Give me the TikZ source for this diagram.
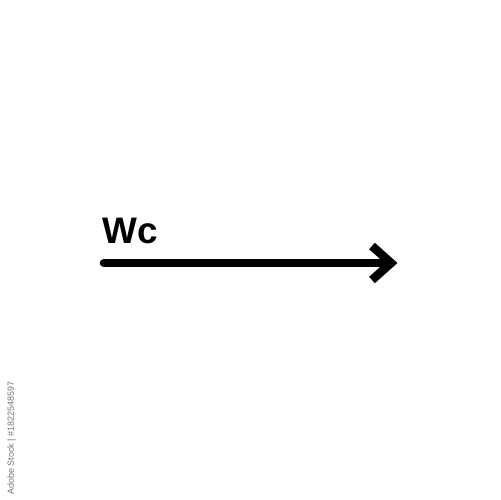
\documentclass[tikz,border=0pt]{standalone}
\usepackage{fontspec}
\setmainfont{Liberation Sans}
\usepackage{tikz}
\usetikzlibrary{positioning}
\usetikzlibrary{calc}
\tikzset{
  % Common styles for the diagram
  shaft/.style={draw, line width=4.9pt, line cap=round},
  barb/.style={draw, line width=4.9pt, line join=miter, line cap=butt},
  label/.style={font=\bfseries\fontsize{21}{24}\selectfont, inner sep=0pt},
  stamp/.style={font=\fontsize{5.1}{6}\selectfont, text=black!55, inner sep=0pt, rotate=90}
}

\begin{document}
\begin{tikzpicture}[x=0.02cm, y=-0.02cm]
    \useasboundingbox (0,0) rectangle (500,500);

    % Place points
    \coordinate (start) at (104,263);
    \coordinate (tip) at (391,263);
    \coordinate (barbup) at (372,246);
    \coordinate (barbdown) at (372,280);

    % Label
    \node [label, anchor=base west] (wc) at (102,243) {Wc};

    % Draw arrow
    \path [shaft] (start) -- ($(tip)+(-3,0)$);
    \path [barb] (barbup) -- (tip) -- (barbdown);

    % Stock mark
    \node [stamp, anchor=north west] (mark) at (7,495) {Adobe Stock | \#1822548597};
\end{tikzpicture}
\end{document}
